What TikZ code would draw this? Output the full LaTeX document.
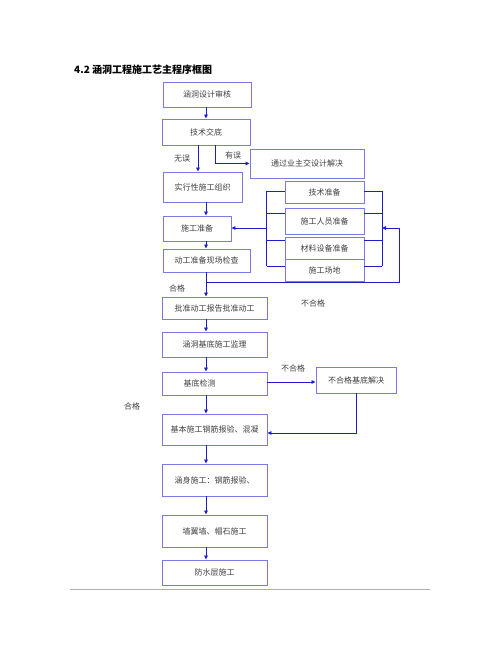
\documentclass[tikz,border=0pt]{standalone}
\usepackage{fontspec}
\newfontfamily\cjk{Noto Sans CJK SC}
\usetikzlibrary{arrows.meta}
\definecolor{azulcaja}{RGB}{122,122,228}
\definecolor{azulflecha}{RGB}{30,30,200}
\definecolor{gris}{RGB}{175,175,175}
\begin{document}
\begin{tikzpicture}[x=1pt,y=-1pt]
	% estilos
	\tikzstyle{caja} = [draw=azulcaja, line width=0.9pt, inner sep=0pt, font=\cjk\fontsize{8}{9}\selectfont, text=black!75]
	\tikzstyle{flecha} = [draw=azulflecha, line width=0.8pt, -{Triangle[length=4pt,width=3.6pt]}]
	\tikzstyle{linea} = [draw=azulflecha, line width=0.8pt]
	\tikzstyle{nota} = [font=\cjk\fontsize{8}{9}\selectfont, text=black!75, inner sep=0pt]
	\useasboundingbox (0,0) rectangle (500,647);
	% titulo
	\node [anchor=west, inner sep=0pt, font=\cjk\bfseries\fontsize{10}{12}\selectfont] (titulo) at (74,70) {4.2 涵洞工程施工艺主程序框图};
	% cajas
	\node [caja, minimum width=88pt, minimum height=25pt] (b1) at (207,94.5) {涵洞设计审核};
	\node [caja, minimum width=88pt, minimum height=26pt] (b2) at (206,132) {技术交底};
	\node [caja, minimum width=114pt, minimum height=29pt] (jj) at (307,163.5) {通过业主交设计解决};
	\node [caja, minimum width=79pt, minimum height=30pt] (b3) at (202.5,187) {实行性施工组织};
	\node [caja, minimum width=68pt, minimum height=25pt] (zb) at (197,228.5) {施工准备};
	\node [caja, minimum width=87pt, minimum height=23pt] (jc) at (206.5,260.5) {动工准备现场检查};
	\node [caja, minimum width=79pt, minimum height=22pt] (r1) at (324.5,192) {技术准备};
	\node [caja, minimum width=79pt, minimum height=26pt] (r2) at (324.5,221) {施工人员准备};
	\node [caja, minimum width=79pt, minimum height=22pt] (r3) at (324.5,248) {材料设备准备};
	\node [caja, minimum width=79pt, minimum height=22pt] (r4) at (324.5,270) {施工场地};
	\node [caja, minimum width=105pt, minimum height=22pt] (b4) at (214.5,308) {批准动工报告批准动工};
	\node [caja, minimum width=105pt, minimum height=25pt] (b5) at (214.5,344.5) {涵洞基底施工监理};
	\node [caja, minimum width=105pt, minimum height=23pt] (b6) at (214.5,383.5) {基底检测\hspace*{30pt}};
	\node [caja, minimum width=80pt, minimum height=26pt] (bj) at (356,380) {不合格基底解决};
	\node [caja, minimum width=105pt, minimum height=31pt] (b7) at (214.5,429.5) {基本施工钢筋报验、混凝};
	\node [caja, minimum width=105pt, minimum height=32pt] (b8) at (214.5,480) {涵身施工：钢筋报验、};
	\node [caja, minimum width=105pt, minimum height=32pt] (b9) at (214.5,531) {墙翼墙、帽石施工};
	\node [caja, minimum width=105pt, minimum height=25pt] (b10) at (214.5,572.5) {防水层施工};
	% rotulos
	\node [nota] (wuwu) at (182,159) {无误};
	\node [nota] (youwu) at (233,155) {有误};
	\node [nota] (hege1) at (177,288) {合格};
	\node [nota] (buhege1) at (313,303) {不合格};
	\node [nota] (buhege2) at (293,368) {不合格};
	\node [nota] (hege2) at (132,406) {合格};
	% puntos de apoyo
	\coordinate (eje) at (206,0);
	\coordinate (giro) at (206,282);
	\coordinate (vuelta) at (399,228);
	\coordinate (izq) at (267,228);
	\coordinate (dcha) at (382,228);
	% relaciones
	\draw [flecha] (b1.south -| eje) -- (b2.north -| eje);
	\draw [flecha] ([xshift=-8pt]b2.south) -- ([xshift=-8pt]b2.south |- b3.north);
	\draw [flecha] ([xshift=9pt]b2.south) |- (jj.west);
	\draw [flecha] (b3.south -| eje) -- (zb.north -| eje);
	\draw [flecha] (zb.south -| eje) -- (jc.north -| eje);
	\draw [flecha] (jc.south -| eje) -- (b4.north -| eje);
	\foreach \r/\d in {r1/1,r2/8,r3/8,r4/4} {
		\draw [linea] ([yshift=\d pt]\r.west) -- ++(-18,0);
		\draw [linea] ([yshift=\d pt]\r.east) -- ++(18,0);
	}
	\draw [linea] ([xshift=-18pt,yshift=1pt]r1.west) -- ([xshift=-18pt,yshift=4pt]r4.west);
	\draw [linea] ([xshift=18pt,yshift=1pt]r1.east) -- ([xshift=18pt,yshift=4pt]r4.east);
	\draw [flecha] (izq) -- (izq -| zb.east);
	\draw [flecha] (giro) -- (giro -| vuelta) -- (vuelta) -- (dcha);
	\draw [flecha] (b4.south -| eje) -- (b5.north -| eje);
	\draw [flecha] (b5.south -| eje) -- (b6.north -| eje);
	\draw [flecha] ([yshift=1.5pt]b6.east) -- ([yshift=1.5pt]b6.east -| bj.west);
	\draw [flecha] (b6.south -| eje) -- (b7.north -| eje);
	\draw [flecha] (bj.south) |- ([yshift=-3.5pt]b7.east);
	\draw [flecha] (b7.south -| eje) -- (b8.north -| eje);
	\draw [flecha] (b8.south -| eje) -- (b9.north -| eje);
	\draw [flecha] (b9.south -| eje) -- (b10.north -| eje);
	% raya de pie
	\draw [gris, line width=1pt] (70,589) -- (430,589);
\end{tikzpicture}
\end{document}
